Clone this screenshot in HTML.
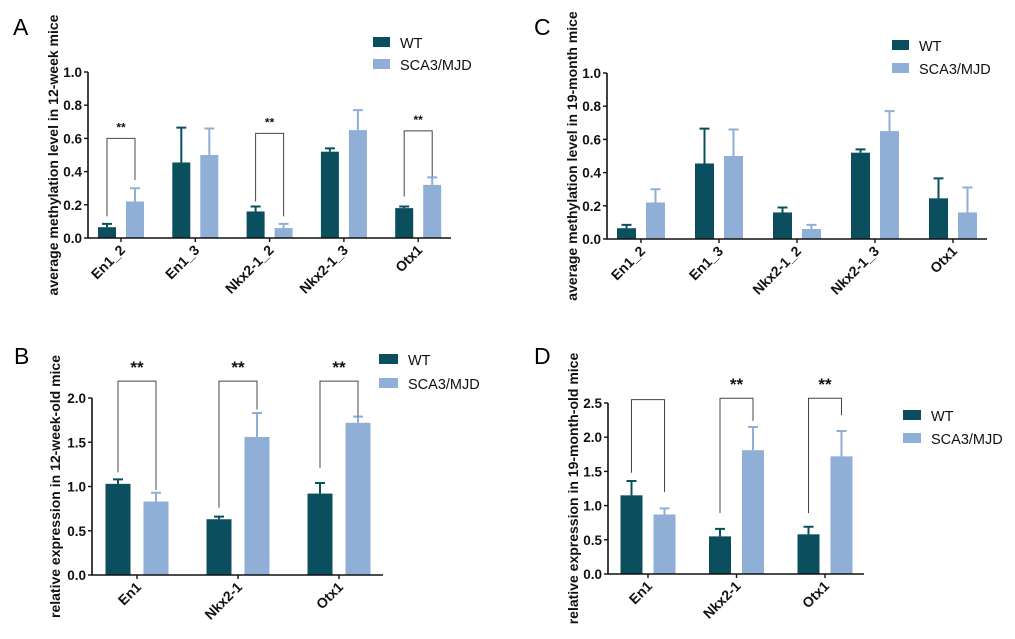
<!DOCTYPE html>
<html><head><meta charset="utf-8"><style>
body{margin:0;background:#fff;}
svg{display:block;font-family:"Liberation Sans",Arial,sans-serif;}
</style></head><body>
<svg id="fig" width="1015" height="639" viewBox="0 0 1015 639" xmlns="http://www.w3.org/2000/svg"></svg>
<script>
// ---- data ----
const catsMeth = ["En1_2","En1_3","Nkx2-1_2","Nkx2-1_3","Otx1"];
const catsExpr = ["En1","Nkx2-1","Otx1"];
const aWT = [0.065,0.455,0.16,0.52,0.18];
const aWTerr = [0.02,0.21,0.03,0.02,0.01];
const aSCA = [0.22,0.50,0.06,0.65,0.32];
const aSCAerr = [0.08,0.16,0.025,0.12,0.045];
const cWT = [0.065,0.455,0.16,0.52,0.245];
const cWTerr = [0.02,0.21,0.03,0.02,0.12];
const cSCA = [0.22,0.50,0.06,0.65,0.16];
const cSCAerr = [0.08,0.16,0.025,0.12,0.15];
const bWT = [1.03,0.63,0.92];
const bWTerr = [0.05,0.03,0.12];
const bSCA = [0.83,1.56,1.72];
const bSCAerr = [0.10,0.27,0.07];
const dWT = [1.15,0.55,0.58];
const dWTerr = [0.21,0.11,0.11];
const dSCA = [0.87,1.81,1.72];
const dSCAerr = [0.09,0.34,0.37];
const ticksMeth = ["0.0","0.2","0.4","0.6","0.8","1.0"];
const ticksB = ["0.0","0.5","1.0","1.5","2.0"];
const ticksD = ["0.0","0.5","1.0","1.5","2.0","2.5"];
// brackets: [groupIndex, top, leftEnd, rightEnd, stars]
const brA = [[0,0.60,0.13,0.35,"**"],[2,0.63,0.22,0.13,"**"],[4,0.645,0.25,0.37,"**"]];
const brB = [[0,2.19,1.16,0.96,"**"],[1,2.19,0.76,1.87,"**"],[2,2.19,1.21,1.79,"**"]];
const brD = [[0,2.55,1.48,1.2,""],[1,2.57,0.89,2.24,"**"],[2,2.57,0.89,2.32,"**"]];

const NS="http://www.w3.org/2000/svg";
const svg=document.getElementById('fig');
const WTC="#0b4f5e", SCAC="#8fafd7";
function mk(tag,attrs,parent,text){const e=document.createElementNS(NS,tag);for(const k in attrs)e.setAttribute(k,attrs[k]);if(text!==undefined)e.textContent=text;(parent||svg).appendChild(e);return e;}

function panel(p){
  const g=mk('g',{});
  
  
  const ymax=parseFloat(p.ticks[p.ticks.length-1]);
  const Y=v=>p.y0-(v/ymax)*(p.y0-p.y1);
  const n=p.cats.length;
  const X=i=>p.c0+i*p.step;
  const L=mk('text',{x:p.lx,y:p.ly,'font-size':23,fill:'#000'},g,p.letter);
  
  
  const t=mk('text',{transform:`translate(${p.tx},${(p.y1+p.y0)/2}) rotate(-90)`,'text-anchor':'middle','font-size':14,'font-weight':'bold',fill:'#111'},g,p.title);
  
  
  const hw=p.bw, gap=p.gap;
  function bar(i,v,e,col,dx,nm){
    const x=X(i)+dx;
    const r=mk('rect',{x:x,y:Y(v),width:hw,height:Y(0)-Y(v),fill:col},g);
    
    
    const cx=x+hw/2;
    const l=mk('path',{d:`M${cx},${Y(v)}V${Y(v+e)}M${cx-5},${Y(v+e)}H${cx+5}`,stroke:col,'stroke-width':2,fill:'none'},g);
    
    
  }
  for(let i=0;i<n;i++){
    bar(i,p.wt[i],p.wte[i],WTC,-gap/2-hw,'wt');
    bar(i,p.sca[i],p.scae[i],SCAC,gap/2,'sca3');
  }
  const ax=mk('path',{d:`M${p.x0},${p.y1}V${Y(0)}H${p.x1}`,stroke:'#111','stroke-width':1.6,fill:'none'},g);
  
  
  p.ticks.forEach(tk=>{
    const v=parseFloat(tk),y=Y(v);
    mk('line',{x1:p.x0-4,x2:p.x0,y1:y,y2:y,stroke:'#111','stroke-width':1.4},g);
    const tl=mk('text',{x:p.x0-6,y:y+5,'text-anchor':'end','font-size':13.5,'font-weight':'bold',fill:'#111'},g,tk);
    
    
  });
  p.cats.forEach((c,i)=>{
    const x=X(i);
    mk('line',{x1:x,x2:x,y1:Y(0),y2:Y(0)+4,stroke:'#111','stroke-width':1.4},g);
    const tl=mk('text',{transform:`translate(${x+5},${Y(0)+13}) rotate(-45)`,'text-anchor':'end','font-size':14,'font-weight':'bold',fill:'#111'},g,c);
    
    
  });
  p.br.forEach(b=>{
    const lx=X(b[0])-gap/2-hw/2, rx=X(b[0])+gap/2+hw/2;
    const pa=mk('path',{d:`M${lx},${Y(b[2])}V${Y(b[1])}H${rx}V${Y(b[3])}`,stroke:'#444','stroke-width':1,fill:'none'},g);
    
    
    if(b[4]){
      const s=mk('text',{x:X(b[0]),y:Y(b[1])-p.sdy,'text-anchor':'middle','font-size':p.sfs,'font-weight':'bold',fill:'#111'},g,b[4]);
      
      
    }
  });
  [[WTC,'WT',0],[SCAC,'SCA3/MJD',1]].forEach(([col,lab,k])=>{
    const lg=mk('g',{},g);
    
    
    mk('rect',{x:p.lgx,y:p.lgy+k*p.lgs,width:p.lgw,height:10,fill:col},lg);
    mk('text',{x:p.lgx+p.lgw+10,y:p.lgy+k*p.lgs+11,'font-size':14.5,fill:'#111'},lg,lab);
  });
}

panel({letter:'A',lx:13,ly:35,title:'average methylation level in 12-week mice',tx:58,
  cats:catsMeth,wt:aWT,wte:aWTerr,sca:aSCA,scae:aSCAerr,ticks:ticksMeth,
  x0:88,x1:451,y0:238,y1:72,c0:121,step:74.3,bw:18,gap:10,br:brA,sdy:7,sfs:12,
  lgx:373,lgy:37,lgs:22,lgw:17});
panel({letter:'C',lx:534,ly:35,title:'average methylation level in 19-month mice',tx:577,
  cats:catsMeth,wt:cWT,wte:cWTerr,sca:cSCA,scae:cSCAerr,ticks:ticksMeth,
  x0:607,x1:987,y0:239,y1:73,c0:641,step:78,bw:19,gap:10,br:[],sdy:8,sfs:12,
  lgx:892,lgy:40,lgs:23,lgw:17});
panel({letter:'B',lx:14,ly:364,title:'relative expression in 12-week-old mice',tx:60,
  cats:catsExpr,wt:bWT,wte:bWTerr,sca:bSCA,scae:bSCAerr,ticks:ticksB,
  x0:92,x1:383,y0:575,y1:398,c0:137,step:101,bw:25,gap:13,br:brB,sdy:8,sfs:17,
  lgx:379,lgy:354,lgs:24,lgw:19});
panel({letter:'D',lx:534,ly:364,title:'relative expression in 19-month-old mice',tx:578,
  cats:catsExpr,wt:dWT,wte:dWTerr,sca:dSCA,scae:dSCAerr,ticks:ticksD,
  x0:608,x1:864,y0:574,y1:403,c0:648,step:88.5,bw:22,gap:11,br:brD,sdy:8,sfs:17,
  lgx:903,lgy:410,lgs:23,lgw:18});
</script>
</body></html>
